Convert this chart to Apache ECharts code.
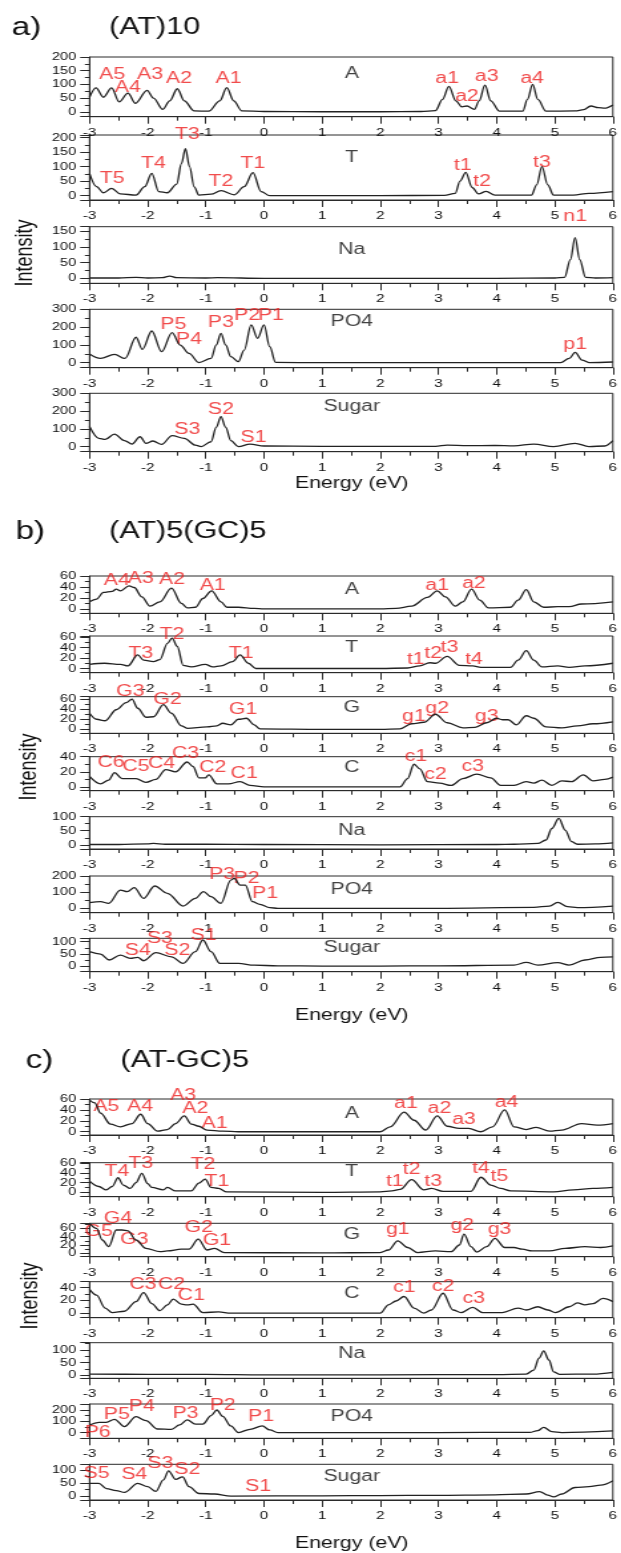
<!DOCTYPE html>
<html>
<head>
<meta charset="utf-8">
<script src="https://cdn.jsdelivr.net/npm/echarts@6.0.0/dist/echarts.min.js"></script>
<style>
html, body { margin:0; padding:0; background:#fff; overflow:hidden; }
/* the source figure is stretched sideways, so draw narrow and stretch */
#main { width:467px; height:1553px; transform:scaleX(1.33); transform-origin:0 0; }
</style>
</head>
<body>
<div id="main"></div>
<script>
var SX = 1.33;
var W = 621 / SX;
var FONT = '"Liberation Sans", Arial, sans-serif';
var RED = '#ee1f1f';

// ---------- a) (AT)10 ----------
var a_A = [[-3,53],[-2.89,87],[-2.76,53],[-2.62,87],[-2.49,36],[-2.34,68],[-2.21,31],[-2.01,78],[-1.9,50],[-1.74,9],[-1.62,40],[-1.49,84],[-1.37,40],[-1.2,3],[-0.95,2],[-0.76,40],[-0.64,88],[-0.52,40],[-0.38,3],[0,1],[1,0],[2,0],[2.7,1],[2.95,4],[3.07,45],[3.18,93],[3.3,40],[3.4,18],[3.49,21],[3.62,9],[3.7,40],[3.8,97],[3.9,40],[4.05,2],[4.45,2],[4.53,45],[4.62,100],[4.71,45],[4.85,2],[5.35,3],[5.5,8],[5.62,21],[5.75,15],[5.86,13],[6,25]];
var a_A_marks = [['A5',-2.61,137],['A4',-2.34,90],['A3',-1.96,137],['A2',-1.46,120],['A1',-0.61,120],['a1',3.15,120],['a2',3.49,57],['a3',3.83,128],['a4',4.61,122]];

var a_T = [[-3,77],[-2.88,31],[-2.76,10],[-2.62,25],[-2.47,6],[-2.2,2],[-2.05,31],[-1.93,77],[-1.81,14],[-1.66,10],[-1.5,40],[-1.42,110],[-1.35,162],[-1.28,100],[-1.2,30],[-1.12,2],[-0.91,5],[-0.74,17],[-0.51,3],[-0.34,31],[-0.19,79],[-0.05,14],[0.1,0],[1,0],[2,0],[3.1,1],[3.29,8],[3.37,50],[3.47,80],[3.58,28],[3.69,6],[3.82,15],[3.97,2],[4.6,2],[4.69,37],[4.78,100],[4.88,37],[4.98,2],[5.32,2],[5.59,8],[6,14]];
var a_T_marks = [['T5',-2.61,60],['T4',-1.9,109],['T3',-1.32,209],['T2',-0.74,48],['T1',-0.19,109],['t1',3.42,103],['t2',3.75,48],['t3',4.78,115]];

var a_Na = [[-3,1],[-2.5,1],[-2.2,3],[-2,1],[-1.75,2],[-1.62,7],[-1.5,2],[-1,1],[-0.8,2],[0,0],[2,0],[4,0],[5,1],[5.17,3],[5.27,60],[5.35,130],[5.43,60],[5.53,3],[5.7,1],[6,2]];
var a_Na_marks = [['n1',5.35,197]];

var a_PO4 = [[-3,49],[-2.81,24],[-2.57,47],[-2.39,24],[-2.2,143],[-2.09,75],[-1.93,178],[-1.76,62],[-1.58,169],[-1.44,99],[-1.29,52],[-1.12,1],[-0.91,24],[-0.82,100],[-0.74,165],[-0.66,100],[-0.57,34],[-0.44,6],[-0.34,71],[-0.22,212],[-0.11,137],[0,212],[0.1,90],[0.2,2],[1,0],[3,0],[5.1,1],[5.25,24],[5.35,58],[5.47,15],[5.59,1],[6,4]];
var a_PO4_marks = [['P5',-1.56,212],['P4',-1.29,128],['P3',-0.74,225],['P2',-0.29,263],['P1',0.12,263],['p1',5.35,99]];

var a_Sugar = [[-3,113],[-2.84,47],[-2.73,41],[-2.57,71],[-2.4,34],[-2.27,15],[-2.13,56],[-2.03,19],[-1.91,32],[-1.76,13],[-1.58,62],[-1.37,47],[-1.18,9],[-1.08,1],[-0.91,28],[-0.82,110],[-0.74,169],[-0.66,110],[-0.57,34],[-0.44,1],[-0.24,15],[0,4],[1,2],[2,2],[2.95,2],[3.15,9],[3.5,6],[3.97,7],[4.3,5],[4.64,15],[4.98,1],[5.35,19],[5.59,1],[5.86,4],[6,34]];
var a_Sugar_marks = [['S3',-1.32,94],['S2',-0.74,206],['S1',-0.18,52]];

// ---------- b) (AT)5(GC)5 ----------
var b_A = [[-3,13],[-2.88,18],[-2.76,30],[-2.61,32],[-2.54,36],[-2.47,33],[-2.32,42],[-2.23,39],[-2.1,22],[-1.96,5],[-1.79,13],[-1.59,38],[-1.42,10],[-1.32,2],[-1.18,3],[-1.05,19],[-0.9,33],[-0.74,13],[-0.64,3],[-0.44,3],[-0.17,1],[0,0],[1,0],[2,0],[2.27,1],[2.54,5],[2.81,21],[2.98,33],[3.12,22],[3.29,5],[3.42,13],[3.57,36],[3.71,16],[3.86,2],[4.24,3],[4.37,16],[4.51,35],[4.64,13],[4.81,3],[5.05,4],[5.25,4],[5.46,9],[6,13]];
var b_A_marks = [['A4',-2.53,52],['A3',-2.12,56],['A2',-1.58,53],['A1',-0.88,42],['a1',2.98,42],['a2',3.61,47]];

var b_T = [[-3,8],[-2.74,10],[-2.47,8],[-2.34,5],[-2.17,26],[-2.07,16],[-1.9,13],[-1.79,17],[-1.66,48],[-1.58,58],[-1.49,42],[-1.39,6],[-1.25,3],[-1.01,8],[-0.88,3],[-0.74,5],[-0.54,13],[-0.41,26],[-0.27,10],[-0.14,0],[1,0],[2,0],[2.47,1],[2.68,5],[2.85,11],[2.95,10],[3.15,23],[3.36,6],[3.59,5],[3.73,2],[4.24,2],[4.37,16],[4.51,34],[4.64,16],[4.78,3],[5.05,5],[5.25,2],[5.52,5],[6,10]];
var b_T_marks = [['T3',-2.12,28],['T2',-1.58,65],['T1',-0.39,28],['t1',2.61,17],['t2',2.91,28],['t3',3.19,39],['t4',3.61,17]];

var b_G = [[-3,32],[-2.88,20],[-2.73,17],[-2.54,39],[-2.37,53],[-2.27,60],[-2.17,42],[-2.03,24],[-1.9,25],[-1.73,49],[-1.59,32],[-1.42,7],[-1.32,2],[-0.98,5],[-0.81,7],[-0.71,12],[-0.57,9],[-0.44,20],[-0.3,22],[-0.17,9],[-0.07,1],[1,0],[2,0],[2.34,1],[2.54,11],[2.75,14],[2.95,30],[3.15,13],[3.42,3],[3.63,4],[3.83,13],[4,22],[4.1,19],[4.2,19],[4.34,9],[4.51,27],[4.64,22],[4.85,5],[5.12,3],[5.39,7],[5.66,11],[6,15]];
var b_G_marks = [['G3',-2.3,75],['G2',-1.66,59],['G1',-0.36,40],['g1',2.58,25],['g2',2.98,42],['g3',3.83,25]];

var b_C = [[-3,14],[-2.81,4],[-2.67,9],[-2.57,19],[-2.44,11],[-2.2,11],[-2.03,6],[-1.86,10],[-1.69,23],[-1.52,20],[-1.32,33],[-1.22,27],[-1.12,12],[-1.01,12],[-0.95,16],[-0.81,4],[-0.61,4],[-0.41,7],[-0.24,2],[0,0],[1,0],[2,0],[2.34,0],[2.47,11],[2.58,30],[2.68,24],[2.81,7],[3.02,5],[3.22,2],[3.42,11],[3.66,17],[3.9,12],[4.07,2],[4.3,2],[4.51,7],[4.64,5],[4.78,9],[4.95,2],[5.12,8],[5.29,7],[5.49,16],[5.66,8],[5.86,10],[6,13]];
var b_C_marks = [['C6',-2.63,32],['C5',-2.2,27],['C4',-1.76,31],['C3',-1.35,44],['C2',-0.88,26],['C1',-0.34,17],['c1',2.61,40],['c2',2.95,16],['c3',3.59,27]];

var b_Na = [[-3,1],[-2.5,1],[-2,3],[-1.9,5],[-1.7,2],[-1,2],[0,1],[2,0],[4,1],[4.3,2],[4.71,5],[4.85,17],[4.95,58],[5.07,94],[5.18,52],[5.29,11],[5.39,2],[5.7,3],[6,7]];
var b_Na_marks = [];

var b_PO4 = [[-3,35],[-2.81,41],[-2.67,31],[-2.47,113],[-2.35,103],[-2.23,128],[-2.07,62],[-1.88,138],[-1.66,93],[-1.39,14],[-1.18,62],[-1.04,103],[-0.91,72],[-0.74,31],[-0.57,175],[-0.51,186],[-0.41,144],[-0.32,144],[-0.2,41],[-0.07,25],[0.1,4],[0.24,0],[1,0],[3,0],[4.64,6],[4.91,14],[5.05,37],[5.22,10],[5.39,4],[6,14]];
var b_PO4_marks = [['P3',-0.72,206],['P2',-0.3,186],['P1',0.02,89]];

var b_Sugar = [[-3,59],[-2.81,49],[-2.66,25],[-2.47,45],[-2.3,32],[-2.17,36],[-2.07,22],[-1.86,55],[-1.59,38],[-1.39,11],[-1.18,59],[-1.05,107],[-0.91,59],[-0.76,11],[-0.44,11],[-0.17,4],[0.24,1],[1,0],[2,0],[3,1],[4.3,4],[4.51,15],[4.71,4],[5.05,14],[5.25,4],[5.52,25],[5.79,36],[6,38]];
var b_Sugar_marks = [['S4',-2.17,63],['S3',-1.79,114],['S2',-1.49,63],['S1',-1.04,127]];

// ---------- c) (AT-GC)5 ----------
var c_A = [[-3,58],[-2.91,53],[-2.81,34],[-2.64,14],[-2.47,9],[-2.27,15],[-2.12,32],[-2,15],[-1.83,1],[-1.66,4],[-1.52,15],[-1.37,29],[-1.25,14],[-1.12,10],[-0.98,3],[-0.71,1],[-0.44,0],[1,0],[2,0],[2.17,9],[2.41,36],[2.58,21],[2.78,3],[2.98,29],[3.15,10],[3.36,6],[3.52,6],[3.73,0],[3.93,9],[4.14,40],[4.3,9],[4.51,4],[4.68,8],[4.91,1],[5.12,3],[5.46,15],[5.73,12],[6,15]];
var c_A_marks = [['A5',-2.71,46],['A4',-2.13,46],['A3',-1.39,67],['A2',-1.18,43],['A1',-0.85,14],['a1',2.44,51],['a2',3.02,43],['a3',3.44,23],['a4',4.17,53]];

var c_T = [[-3,23],[-2.84,12],[-2.71,5],[-2.61,12],[-2.51,30],[-2.42,15],[-2.3,8],[-2.2,20],[-2.1,39],[-2,18],[-1.93,10],[-1.73,5],[-1.66,10],[-1.52,3],[-1.25,3],[-1.12,19],[-1.01,27],[-0.91,10],[-0.78,8],[-0.64,1],[1,0],[2,1],[2.2,3],[2.34,6],[2.54,26],[2.75,5],[2.88,8],[3.08,2],[3.56,2],[3.73,31],[3.9,15],[4.07,8],[4.24,3],[4.98,1],[5.32,5],[5.66,8],[6,10]];
var c_T_marks = [['T4',-2.53,43],['T3',-2.12,59],['T2',-1.05,57],['T1',-0.81,22],['t1',2.25,22],['t2',2.54,46],['t3',2.91,22],['t4',3.73,48],['t5',4.05,32]];

var c_G = [[-3,72],[-2.88,60],[-2.78,32],[-2.67,16],[-2.54,56],[-2.44,56],[-2.34,54],[-2.2,32],[-2.03,12],[-1.79,4],[-1.66,6],[-1.42,10],[-1.29,10],[-1.13,34],[-0.98,8],[-0.85,12],[-0.68,2],[1,1],[2,2],[2.14,8],[2.3,30],[2.47,14],[2.64,2],[2.95,6],[3.22,4],[3.36,20],[3.44,46],[3.56,16],[3.66,3],[3.83,16],[3.97,36],[4.14,14],[4.3,14],[4.44,10],[4.61,6],[4.91,6],[5.18,12],[5.52,16],[5.79,14],[6,18]];
var c_G_marks = [['G5',-2.84,52],['G4',-2.51,84],['G3',-2.23,34],['G2',-1.12,62],['G1',-0.81,30],['g1',2.3,56],['g2',3.41,66],['g3',4.05,56]];

var c_C = [[-3,37],[-2.88,28],[-2.73,8],[-2.61,1],[-2.4,3],[-2.2,18],[-2.07,32],[-1.93,15],[-1.79,4],[-1.66,13],[-1.56,22],[-1.42,14],[-1.32,13],[-1.22,14],[-1.05,1],[-0.78,2],[-0.57,0],[1,0],[2,0],[2.14,13],[2.27,19],[2.41,26],[2.58,8],[2.75,0],[2.88,5],[3.08,31],[3.25,5],[3.39,1],[3.59,9],[3.76,1],[4.1,1],[4.37,8],[4.51,5],[4.71,10],[4.88,5],[5.01,1],[5.25,10],[5.39,16],[5.52,13],[5.66,15],[5.83,23],[6,18]];
var c_C_marks = [['C3',-2.08,44],['C2',-1.59,45],['C1',-1.25,27],['c1',2.41,40],['c2',3.08,41],['c3',3.61,23]];

var c_Na = [[-3,4],[-2,3],[-1,3],[0,1],[2,1],[4,2],[4.51,4],[4.64,20],[4.73,67],[4.81,96],[4.9,60],[4.98,13],[5.08,3],[5.66,4],[6,11]];
var c_Na_marks = [];

var c_PO4 = [[-3,68],[-2.84,91],[-2.71,91],[-2.57,118],[-2.4,53],[-2.2,141],[-2.03,106],[-1.83,32],[-1.59,29],[-1.45,68],[-1.32,112],[-1.18,76],[-1.05,76],[-0.91,150],[-0.81,200],[-0.71,144],[-0.57,59],[-0.44,1],[-0.24,29],[-0.03,59],[0.1,24],[0.24,1],[1,0],[3,1],[4.57,2],[4.71,18],[4.81,47],[4.95,9],[5.12,1],[6,15]];
var c_PO4_marks = [['P6',-2.86,0],['P5',-2.53,156],['P4',-2.1,229],['P3',-1.35,171],['P2',-0.71,235],['P1',-0.05,141]];

var c_Sugar = [[-3,49],[-2.84,49],[-2.71,29],[-2.54,21],[-2.4,14],[-2.17,49],[-2,36],[-1.86,18],[-1.73,62],[-1.64,97],[-1.52,64],[-1.4,74],[-1.29,36],[-1.12,10],[-0.85,8],[-0.57,0],[1,1],[2,2],[2.95,3],[3.97,5],[4.51,8],[4.74,17],[4.88,4],[4.98,-3],[5.12,8],[5.35,33],[5.59,36],[5.79,42],[6,59]];
var c_Sugar_marks = [['S5',-2.88,85],['S4',-2.23,81],['S3',-1.78,126],['S2',-1.32,100],['S1',-0.1,36]];

var xTicks = [-3, 6, 1];   // min, max, step of energy axis

// layout of the 19 panels: frame top/bottom in px, y range, step, name height
var panels = [
  {name:'A',     data:a_A,     marks:a_A_marks,     top:57,     bottom:116.7,  min:-18, max:200, step:50,  ny:141},
  {name:'T',     data:a_T,     marks:a_T_marks,     top:135,    bottom:200,    min:-15, max:209, step:50,  ny:132},
  {name:'Na',    data:a_Na,    marks:a_Na_marks,    top:226.7,  bottom:283.3,  min:-16, max:165, step:50,  ny:93},
  {name:'PO4',   data:a_PO4,   marks:a_PO4_marks,   top:309.3,  bottom:367.7,  min:-28, max:300, step:100, ny:231},
  {name:'Sugar', data:a_Sugar, marks:a_Sugar_marks, top:393.3,  bottom:451.7,  min:-28, max:300, step:100, ny:225},

  {name:'A',     data:b_A,     marks:b_A_marks,     top:576,    bottom:613.3,  min:-8,  max:60,  step:20,  ny:36},
  {name:'T',     data:b_T,     marks:b_T_marks,     top:636,    bottom:672.7,  min:-8,  max:62,  step:20,  ny:39},
  {name:'G',     data:b_G,     marks:b_G_marks,     top:696.7,  bottom:733.3,  min:-8,  max:65,  step:20,  ny:44},
  {name:'C',     data:b_C,     marks:b_C_marks,     top:756.7,  bottom:790.7,  min:-5,  max:40,  step:20,  ny:26},
  {name:'Na',    data:b_Na,    marks:b_Na_marks,    top:816.7,  bottom:849,    min:-15, max:100, step:50,  ny:52},
  {name:'PO4',   data:b_PO4,   marks:b_PO4_marks,   top:876,    bottom:912.7,  min:-27, max:200, step:100, ny:118},
  {name:'Sugar', data:b_Sugar, marks:b_Sugar_marks, top:938.3,  bottom:971.7,  min:-23, max:114, step:50,  ny:77},

  {name:'A',     data:c_A,     marks:c_A_marks,     top:1099,   bottom:1135,   min:-6,  max:60,  step:20,  ny:34},
  {name:'T',     data:c_T,     marks:c_T_marks,     top:1162.7, bottom:1196.7, min:-9,  max:61,  step:20,  ny:43},
  {name:'G',     data:c_G,     marks:c_G_marks,     top:1223.3, bottom:1256.7, min:-8,  max:72,  step:20,  ny:44},
  {name:'C',     data:c_C,     marks:c_C_marks,     top:1281.7, bottom:1317.7, min:-7,  max:49,  step:20,  ny:31},
  {name:'Na',    data:c_Na,    marks:c_Na_marks,    top:1342.7, bottom:1378.3, min:-13, max:129, step:50,  ny:84},
  {name:'PO4',   data:c_PO4,   marks:c_PO4_marks,   top:1404,   bottom:1438.3, min:-50, max:253, step:100, ny:141},
  {name:'Sugar', data:c_Sugar, marks:c_Sugar_marks, top:1464.3, bottom:1500,   min:-15, max:122, step:50,  ny:74}
];

var plotLeft = 89.5 / SX, plotRight = W - 614 / SX;
var grids = [], xAxes = [], yAxes = [], series = [];
var axisCol = '#2a2a2a';

panels.forEach(function (p, i) {
  grids.push({
    left: plotLeft, right: plotRight, top: p.top, height: p.bottom - p.top,
    show: true, borderColor: axisCol, borderWidth: 1, backgroundColor: 'transparent'
  });
  xAxes.push({
    gridIndex: i, type: 'value', min: xTicks[0], max: xTicks[1], interval: xTicks[2],
    axisLine: {show: true, onZero: false, lineStyle: {color: axisCol, width: 1}},
    axisTick: {show: true, length: 7, lineStyle: {color: axisCol}},
    minorTick: {show: true, splitNumber: 2, length: 4, lineStyle: {color: axisCol}},
    splitLine: {show: false},
    axisLabel: {margin: 10, fontSize: 11.5, color: '#111', fontFamily: FONT, hideOverlap: false}
  });
  yAxes.push({
    gridIndex: i, type: 'value', min: p.min, max: p.max,
    minInterval: p.step, maxInterval: p.step,
    axisLine: {show: true, onZero: false, lineStyle: {color: axisCol, width: 1}},
    axisTick: {show: true, length: 7, lineStyle: {color: axisCol}},
    minorTick: {show: true, splitNumber: 2, length: 3.5, lineStyle: {color: axisCol}},
    splitLine: {show: false},
    axisLabel: {margin: 10, fontSize: 11, color: '#111', fontFamily: FONT, hideOverlap: false,
      showMinLabel: false, showMaxLabel: p.max % p.step === 0}
  });
  series.push({
    type: 'line', xAxisIndex: i, yAxisIndex: i, data: p.data,
    smooth: 0.35, smoothMonotone: 'x', showSymbol: false, symbol: 'none',
    lineStyle: {color: '#222', width: 1.3}, silent: true
  });
  var marks = p.marks.map(function (m) {
    return {name: m[0], value: [m[1], m[2]]};
  });
  marks.push({name: p.name, value: [1.51, p.ny], label: {color: '#111'}});
  series.push({
    type: 'scatter', xAxisIndex: i, yAxisIndex: i, data: marks, clip: false,
    symbol: 'circle', symbolSize: 1, itemStyle: {color: 'rgba(0,0,0,0)'}, silent: true,
    labelLayout: {hideOverlap: false},
    label: {show: true, position: 'inside', formatter: '{b}', color: RED,
      fontSize: 16, fontFamily: FONT}
  });
});

function txt(s, x, y, size, align, rot) {
  return {
    type: 'text', x: x, y: y, rotation: rot || 0, silent: true,
    style: {text: s, font: size + 'px ' + FONT, fill: '#111',
      textAlign: align, align: align, textVerticalAlign: 'middle', verticalAlign: 'middle'}
  };
}
var midX = (89.5 + 614) / 2 / SX;
var graphics = [
  txt('a)', 8.8, 28, 25, 'left'),  txt('(AT)10', 82, 28, 23, 'left'),
  txt('b)', 11.7, 532, 25, 'left'), txt('(AT)5(GC)5', 82, 532, 23, 'left'),
  txt('c)', 19.2, 1061, 25, 'left'), txt('(AT-GC)5', 90.5, 1061, 23, 'left'),
  txt('Intensity', 19.2, 253, 18, 'center', Math.PI / 2),
  txt('Intensity', 22.2, 767, 18, 'center', Math.PI / 2),
  txt('Intensity', 22.9, 1296, 18, 'center', Math.PI / 2),
  txt('Energy (eV)', midX, 484, 16, 'center'),
  txt('Energy (eV)', midX, 1016, 16, 'center'),
  txt('Energy (eV)', midX, 1544, 16, 'center')
];

var chart = echarts.init(document.getElementById('main'), null, {renderer: 'canvas'});
chart.setOption({
  animation: false,
  backgroundColor: '#fff',
  grid: grids,
  xAxis: xAxes,
  yAxis: yAxes,
  series: series,
  graphic: graphics
});
</script>
</body>
</html>
